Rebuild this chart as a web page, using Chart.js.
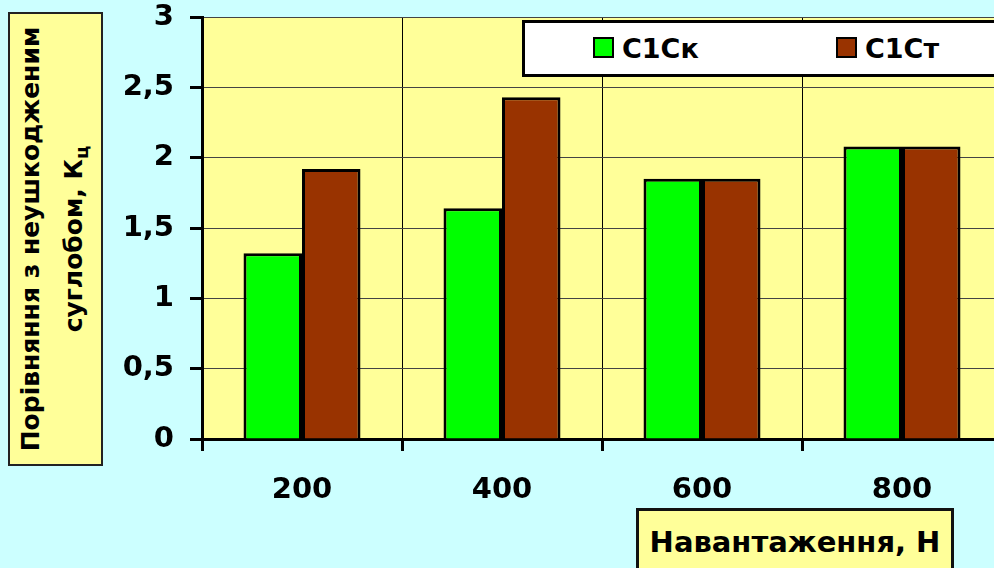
<!DOCTYPE html>
<html lang="uk">
<head>
  <meta charset="UTF-8">
  <title>Порівняння з неушкодженим суглобом</title>
  <script src="https://cdn.jsdelivr.net/npm/chart.js"></script>
  <style>
    html, body { margin: 0; padding: 0; overflow: hidden; background: #ccffff; }
    body { font-family: "DejaVu Sans", Verdana, sans-serif; font-weight: bold; }
    #wrap { position: relative; width: 994px; height: 568px; overflow: hidden; }
    #chart-box { position: absolute; left: 0; top: 0; width: 1010px; height: 568px; }
    #ytitle {
      position: absolute; left: 8px; top: 12px; width: 91px; height: 450px;
      background: #ffff99; border: 2px solid #222;
    }
    #ytitle div {
      position: absolute; left: 50%; top: 50%; width: 450px;
      transform: translate(-50%, -50%) rotate(-90deg);
      text-align: center; font-size: 25px; line-height: 43px; white-space: nowrap;
    }
    #xtitle {
      position: absolute; left: 636px; top: 508px; width: 318px; height: 70px;
      background: #ffff99; border: 3px solid #111;
      font-size: 29px; text-align: center; line-height: 70px; box-sizing: border-box;
    }
    #xtitle span { position: relative; top: -4px; }
    #legend {
      position: absolute; left: 522px; top: 20px; width: 500px; height: 57px;
      background: #fff; border: 3px solid #000; box-sizing: border-box;
      font-size: 27px;
    }
    .item { position: absolute; top: 10px; line-height: 32px; }
    .sw {
      display: inline-block; width: 17px; height: 17px; border: 2px solid #000;
      vertical-align: 0px; margin-right: 8px;
    }
  </style>
</head>
<body>
<div id="wrap">
  <div id="chart-box"><canvas id="bars" width="1010" height="568"></canvas></div>
  <div id="ytitle"><div>Порівняння з неушкодженим<br>суглобом, К<sub style="font-size:18px">ц</sub></div></div>
  <div id="xtitle"><span>Навантаження, Н</span></div>
  <div id="legend"></div>
</div>

<script>
  const categories = ['200', '400', '600', '800'];
  const c1ck = [1.32, 1.64, 1.85, 2.08];
  const c1ct = [1.92, 2.43, 1.85, 2.08];
  const seriesNames = ['С1Ск', 'С1Ст'];
  const seriesColors = ['#00ff00', '#993300'];

  // legend in html, like the excel box
  const legend = document.getElementById('legend');
  const legendLeft = [68, 311];
  seriesNames.forEach((name, i) => {
    const it = document.createElement('div');
    it.className = 'item';
    it.style.left = legendLeft[i] + 'px';
    it.innerHTML = '<span class="sw" style="background:' + seriesColors[i] + '"></span>' + name;
    legend.appendChild(it);
  });

  const plotBg = {
    id: 'plotBg',
    beforeDraw(chart) {
      const a = chart.chartArea;
      const c = chart.ctx;
      c.save();
      c.fillStyle = '#ffff99';
      c.fillRect(a.left, a.top, a.right - a.left, a.bottom - a.top);
      c.restore();
    }
  };

  const font = { family: '"DejaVu Sans", Verdana, sans-serif', weight: 'bold', size: 29 };

  new Chart(document.getElementById('bars'), {
    type: 'bar',
    data: {
      labels: categories,
      datasets: [
        { label: seriesNames[0], data: c1ck, backgroundColor: seriesColors[0], borderColor: '#000', borderWidth: 3 },
        { label: seriesNames[1], data: c1ct, backgroundColor: seriesColors[1], borderColor: '#000', borderWidth: 3 }
      ]
    },
    options: {
      responsive: false,
      animation: false,
      categoryPercentage: 0.585,
      barPercentage: 1,
      layout: { padding: { top: 17, right: 8, left: 0, bottom: 0 } },
      plugins: { legend: { display: false }, tooltip: { enabled: false } },
      scales: {
        x: {
          grid: { color: '#000', lineWidth: 1, tickLength: 12, tickColor: '#000', tickWidth: 3 },
          border: { color: '#000', width: 3 },
          ticks: { color: '#000', font: font, padding: 22 },
          afterFit(s) { s.height = 568 - 439; }
        },
        y: {
          min: 0, max: 3,
          grid: { color: '#444', lineWidth: 1, tickLength: 12, tickColor: '#000', tickWidth: 3 },
          border: { color: '#000', width: 3 },
          ticks: {
            stepSize: 0.5, color: '#000', font: font, padding: 16,
            callback: v => String(v).replace('.', ',')
          },
          afterFit(s) { s.width = 202; s.paddingTop = 0; s.paddingBottom = 0; }
        }
      }
    },
    plugins: [plotBg]
  });
</script>
</body>
</html>
